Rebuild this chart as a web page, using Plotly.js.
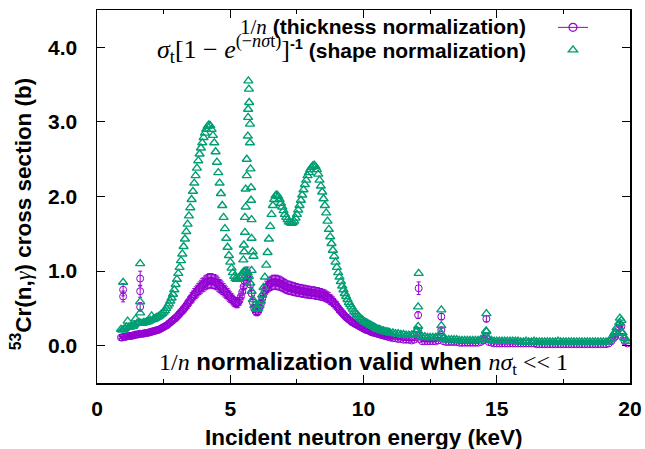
<!DOCTYPE html>
<html>
<head>
<meta charset="utf-8">
<script src="https://cdn.plot.ly/plotly-3.0.1.min.js"></script>
<style>html,body{margin:0;padding:0;background:#fff;}#chart{width:645px;height:449px;}</style>
</head>
<body>
<div id="chart"></div>
<script>
// ---- Data (energy in keV, cross section in b) ----
const energyA = [0.90,0.95,
 1.00,1.05,1.10,1.15,1.20,1.25,1.30,1.35,1.40,1.45,1.50,1.55,1.60,1.65,1.70,1.75,1.80,1.85,1.90,1.95,
 2.00,2.05,2.10,2.15,2.20,2.25,2.30,2.35,2.40,2.45,2.50,2.55,2.60,2.65,2.70,2.75,2.80,2.85,2.90,2.95,
 3.00,3.05,3.10,3.15,3.20,3.25,3.30,3.35,3.40,3.45,3.50,3.55,3.60,3.65,3.70,3.75,3.80,3.85,3.90,3.95,
 4.00,4.05,4.10,4.15,4.20,4.25,4.30,4.35,4.40,4.45,4.50,4.55,4.60,4.65,4.70,4.75,4.80,4.85,4.90,4.95,
 5.00,5.05,5.10,5.15,5.20,5.25,5.30,5.35,5.40,5.45,5.50,5.55,5.60,5.65,5.70,5.75,5.80,5.85,5.90,5.95,
 6.00,6.05,6.10,6.15,6.20,6.25,6.30,6.35,6.40,6.45,6.50,6.55,6.60,6.65,6.70,6.75,6.80,6.85,6.90,6.95,
 7.00,7.05,7.10,7.15,7.20,7.25,7.30,7.35,7.40,7.45,7.50,7.55,7.60,7.65,7.70,7.75,7.80,7.85,7.90,7.95,
 8.00,8.05,8.10,8.15,8.20,8.25,8.30,8.35,8.40,8.45,8.50,8.55,8.60,8.65,8.70,8.75,8.80,8.85,8.90,8.95,
 9.00,9.05,9.10,9.15,9.20,9.25,9.30,9.35,9.40,9.45,9.50,9.55,9.60,9.65,9.70,9.75,9.80,9.85,9.90,9.95,
 10.00,10.05,10.10,10.15,10.20,10.25,10.30,10.35,10.40,10.45,10.50,10.55,10.60,10.65,10.70,10.75,10.80,10.85,10.90,10.95,
 11.00];
const shapeNormA = [0.22,0.21,
 0.22,0.23,0.25,0.33,0.25,0.25,0.26,0.26,0.28,0.36,0.30,0.30,0.31,0.30,0.30,0.31,0.31,0.32,0.32,0.33,
 0.34,0.40,0.35,0.36,0.37,0.38,0.39,0.40,0.42,0.43,0.45,0.47,0.50,0.53,0.56,0.60,0.64,0.69,0.75,0.82,
 0.89,0.97,1.05,1.14,1.23,1.33,1.43,1.53,1.63,1.74,1.85,1.96,2.07,2.18,2.28,2.38,2.48,2.57,2.65,2.72,
 2.79,2.85,2.90,2.94,2.96,2.95,2.90,2.82,2.72,2.60,2.46,2.32,2.18,2.04,1.88,1.72,1.57,1.44,1.32,1.21,
 1.12,1.04,0.98,0.93,0.90,0.89,0.89,0.91,0.94,0.97,0.99,1.00,1.00,0.98,0.93,0.84,0.73,0.62,0.54,0.50,
 0.49,0.50,0.54,0.60,0.68,0.78,0.92,1.08,1.25,1.43,1.60,1.76,1.88,1.96,2.01,2.02,2.00,1.96,1.91,1.86,
 1.81,1.76,1.72,1.69,1.66,1.65,1.64,1.65,1.67,1.71,1.76,1.82,1.88,1.95,2.02,2.09,2.16,2.22,2.28,2.32,
 2.36,2.39,2.41,2.42,2.40,2.36,2.30,2.22,2.14,2.06,1.97,1.88,1.78,1.67,1.56,1.46,1.37,1.28,1.20,1.12,
 1.05,0.98,0.92,0.86,0.80,0.75,0.70,0.66,0.62,0.58,0.55,0.52,0.49,0.46,0.44,0.42,0.40,0.38,0.36,0.35,
 0.33,0.32,0.31,0.30,0.29,0.28,0.27,0.26,0.25,0.24,0.23,0.22,0.22,0.21,0.20,0.20,0.19,0.19,0.18,0.18,
 0.17];
const thickNormA = [0.11,0.11,
 0.12,0.12,0.12,0.13,0.13,0.13,0.13,0.14,0.14,0.15,0.15,0.15,0.16,0.16,0.16,0.16,0.17,0.17,0.17,0.18,
 0.18,0.19,0.19,0.20,0.20,0.21,0.21,0.22,0.23,0.24,0.25,0.26,0.27,0.28,0.30,0.31,0.33,0.34,0.36,0.37,
 0.39,0.41,0.43,0.45,0.47,0.49,0.51,0.54,0.56,0.59,0.61,0.64,0.66,0.69,0.71,0.73,0.75,0.77,0.79,0.81,
 0.82,0.84,0.85,0.86,0.87,0.87,0.87,0.86,0.86,0.85,0.84,0.82,0.80,0.79,0.77,0.75,0.73,0.71,0.69,0.67,
 0.65,0.63,0.61,0.59,0.58,0.57,0.58,0.61,0.66,0.72,0.79,0.86,0.92,0.95,0.91,0.82,0.70,0.58,0.50,0.46,
 0.45,0.46,0.50,0.56,0.63,0.69,0.74,0.78,0.80,0.82,0.83,0.84,0.85,0.85,0.85,0.85,0.84,0.84,0.83,0.82,
 0.81,0.80,0.79,0.78,0.78,0.77,0.77,0.76,0.76,0.75,0.75,0.74,0.74,0.74,0.73,0.73,0.73,0.72,0.72,0.72,
 0.71,0.71,0.71,0.71,0.70,0.70,0.70,0.69,0.69,0.68,0.68,0.67,0.66,0.65,0.64,0.62,0.61,0.59,0.57,0.55,
 0.53,0.50,0.48,0.46,0.44,0.42,0.40,0.38,0.37,0.35,0.34,0.32,0.31,0.30,0.29,0.28,0.27,0.26,0.25,0.24,
 0.23,0.22,0.21,0.21,0.20,0.19,0.18,0.18,0.17,0.17,0.16,0.16,0.15,0.15,0.14,0.14,0.13,0.13,0.12,0.12,
 0.11];

const energyB = [11.1,11.2,11.3,11.4,11.5,11.6,11.7,11.8,11.9,
 12.0,12.1,12.2,12.3,12.4,12.5,12.6,12.7,12.8,12.9,
 13.0,13.1,13.2,13.3,13.4,13.5,13.6,13.7,13.8,13.9,
 14.0,14.1,14.2,14.3,14.4,14.5,14.6,14.7,14.8,14.9,
 15.0,15.1,15.2,15.3,15.4,15.5,15.6,15.7,15.8,15.9,
 16.0,16.1,16.2,16.3,16.4,16.5,16.6,16.7,16.8,16.9,
 17.0,17.1,17.2,17.3,17.4,17.5,17.6,17.7,17.8,17.9,
 18.0,18.1,18.2,18.3,18.4,18.5,18.6,18.7,18.8,18.9,
 19.0,19.1,19.2,19.3,19.4,19.5,19.6,19.7,19.8,19.9];
const shapeNormB = [0.17,0.16,0.16,0.15,0.15,0.14,0.14,0.14,0.15,
 0.21,0.16,0.12,0.12,0.11,0.11,0.11,0.11,0.12,0.17,
 0.10,0.08,0.08,0.08,0.08,0.08,0.07,0.07,0.07,0.07,
 0.07,0.07,0.07,0.07,0.08,0.11,0.20,0.09,0.07,0.06,
 0.06,0.06,0.06,0.06,0.06,0.06,0.06,0.06,0.06,0.05,
 0.05,0.06,0.05,0.05,0.06,0.05,0.05,0.05,0.05,0.05,
 0.05,0.05,0.05,0.06,0.05,0.05,0.05,0.05,0.05,0.05,
 0.05,0.05,0.05,0.05,0.05,0.05,0.05,0.05,0.05,0.05,
 0.05,0.05,0.06,0.09,0.16,0.24,0.31,0.17,0.10,0.06];
const thickNormB = [0.10,0.10,0.09,0.09,0.08,0.08,0.08,0.07,0.08,
 0.14,0.09,0.06,0.06,0.06,0.06,0.06,0.06,0.07,0.12,
 0.06,0.05,0.05,0.05,0.05,0.05,0.04,0.04,0.04,0.04,
 0.04,0.04,0.04,0.04,0.05,0.07,0.12,0.05,0.04,0.03,
 0.03,0.03,0.03,0.03,0.03,0.03,0.03,0.03,0.03,0.03,
 0.03,0.03,0.03,0.03,0.03,0.02,0.02,0.02,0.02,0.02,
 0.02,0.02,0.02,0.02,0.02,0.02,0.02,0.02,0.02,0.02,
 0.02,0.02,0.02,0.02,0.02,0.02,0.02,0.02,0.02,0.02,
 0.02,0.02,0.03,0.06,0.11,0.17,0.24,0.12,0.06,0.03];

// isolated resonance points
const resEnergyShape = [0.98,1.62,1.62,1.62,
 5.68,5.70,5.71,5.67,5.67,5.74,5.66,5.74,5.62,5.76,5.62,5.58,5.78,5.78,5.58,5.55,5.80,5.55,5.80,5.51,5.52,5.84,5.49,5.87,5.80,
 12.07,12.05,12.05,12.92,12.92,14.61,14.61,19.44,19.62,19.68,19.72];
const resShape = [0.85,1.10,0.59,0.44,
 3.55,3.44,3.26,3.17,3.06,2.97,2.81,2.72,2.50,2.37,2.28,2.10,2.12,1.95,1.86,1.72,1.69,1.52,1.44,1.35,1.26,1.26,1.15,1.20,1.01,
 0.97,0.52,0.26,0.48,0.27,0.43,0.19,0.18,0.37,0.34,0.17];
const resEnergyThick = [0.98,0.98,1.62,1.62,1.62,12.07,12.05,12.05,12.92,12.92,14.61,14.61,19.44,19.62,19.68];
const resThick = [0.75,0.66,0.90,0.73,0.52,0.77,0.41,0.20,0.39,0.21,0.36,0.11,0.12,0.28,0.26];

const purple = '#9400D3';
const green = '#009E73';
const serif = "font-family:'Liberation Serif',serif;font-weight:normal";
const serifBig = "font-family:'Liberation Serif',serif;font-weight:normal;font-size:26px";

const traces = [
 {
  type:'scatter', mode:'markers', showlegend:false,
  x: energyA.concat(energyB, resEnergyThick),
  y: thickNormA.concat(thickNormB, resThick),
  marker:{symbol:'circle-open', size:7, color:purple, line:{width:1, color:purple}},
  error_y:{type:'percent', value:11, color:purple, thickness:1, width:2}
 },
 {
  type:'scatter', mode:'markers', name:' ', legendrank:2,
  x: energyA.concat(energyB, resEnergyShape),
  y: shapeNormA.concat(shapeNormB, resShape),
  marker:{symbol:'triangle-up-open', size:8, color:green, line:{width:1.4, color:green}}
 },
 {
  type:'scatter', mode:'lines+markers', name:' ', legendrank:1,
  x: [null], y: [null],
  line:{color:purple, width:1},
  marker:{symbol:'circle-open', size:8, color:purple, line:{width:1.2, color:purple}}
 }
];

const tickFont = {family:'Liberation Sans, Arial, sans-serif', size:21, color:'#000', weight:'bold'};
const annFont = {family:'Liberation Sans, Arial, sans-serif', size:21, color:'#000', weight:'bold'};
const titleFont = {family:'Liberation Sans, Arial, sans-serif', size:22.5, color:'#000', weight:'bold'};
const noteFont = {family:'Liberation Sans, Arial, sans-serif', size:24, color:'#000', weight:'bold'};

const layout = {
 width:645, height:449,
 margin:{l:97, r:15, t:10, b:66},
 paper_bgcolor:'#fff', plot_bgcolor:'#fff',
 showlegend:true,
 legend:{x:0.8555, xanchor:'left', y:0.997, yanchor:'top', bgcolor:'rgba(0,0,0,0)', font:{size:15}, tracegroupgap:0},
 xaxis:{range:[0,20], tick0:0, dtick:5, ticks:'inside', ticklen:8, tickwidth:1, tickcolor:'#000',
  showline:true, linecolor:'#000', linewidth:1.5, mirror:'ticks', showgrid:false, zeroline:false,
  tickfont:tickFont, ticklabelstandoff:6,
  minor:{dtick:2.5, ticks:'inside', ticklen:4, tickcolor:'#000', tickwidth:1, showgrid:false}},
 yaxis:{range:[-0.5,4.5], tick0:0, dtick:1, tickformat:'.1f', ticks:'inside', ticklen:8, tickwidth:1, tickcolor:'#000',
  showline:true, linecolor:'#000', linewidth:1.5, mirror:'ticks', showgrid:false, zeroline:false,
  tickfont:tickFont, ticklabelstandoff:14},
 annotations:[
  {xref:'paper', yref:'paper', x:0.8086, y:0.954, xanchor:'right', yanchor:'middle', showarrow:false, font:annFont,
   text:'<span style="'+serif+'">1/<i>n</i></span> (thickness normalization)'},
  {xref:'paper', yref:'paper', x:0.8086, y:0.896, xanchor:'right', yanchor:'middle', showarrow:false, font:annFont,
   text:'<span style="'+serifBig+'"><i>σ</i><sub>t</sub>[1 − <i>e</i><sup>(−<i>nσ</i>t)</sup>]</span><sup>-1</sup> (shape normalization)'},
  {xref:'x', yref:'y', x:10, y:-0.24, xanchor:'center', yanchor:'middle', showarrow:false, font:noteFont,
   text:'<span style="'+serif+'">1/<i>n</i></span> normalization valid when <span style="'+serif+'"><i>nσ</i><sub>t</sub> &lt;&lt; 1</span>'},
  {xref:'paper', yref:'paper', x:0.5, y:-0.145, xanchor:'center', yanchor:'middle', showarrow:false, font:titleFont,
   text:'Incident neutron energy (keV)'},
  {xref:'paper', yref:'paper', x:-0.142, y:0.453, xanchor:'center', yanchor:'middle', showarrow:false, font:titleFont, textangle:-90,
   text:'<sup>53</sup>Cr(n,<span style="'+serif+'"><i>γ</i></span>) cross section (b)'}
 ]
};

Plotly.newPlot('chart', traces, layout, {displayModeBar:false, staticPlot:true});
</script>
</body>
</html>
